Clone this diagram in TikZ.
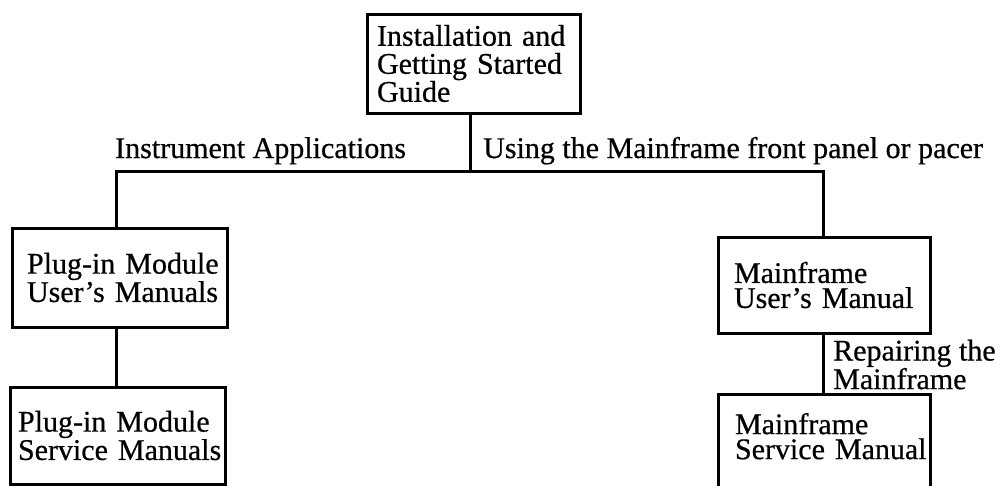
\documentclass[tikz,border=0pt]{standalone}
\usepackage{fontspec}
\setmainfont{Liberation Serif}[FakeBold=0.6]
\newcommand{\apos}{{\char"0027}}
\hyphenpenalty=10000
\exhyphenpenalty=10000
\hfuzz=200pt
\hbadness=10000
\begin{document}
\begin{tikzpicture}[x=1pt,y=-1pt,
  every node/.style={font=\fontsize{30}{25}\selectfont},
  docbox/.style={draw, line width=3pt, inner ysep=0pt, align=left},
  conn/.style={line width=3pt, line join=miter},
  lbl/.style={inner sep=0pt, align=left}]
\useasboundingbox (0,0) rectangle (1000,485);
\clip (0,0) rectangle (1000,485);
% boxes
\node[docbox, font=\fontsize{30}{28}\selectfont, text width=193pt, inner xsep=10pt, minimum height=99pt] (top) at (473.5,63.5)
  {\mbox{Installation and}\\\mbox{Getting Started}\\\mbox{Guide}};
\node[docbox, text width=185pt, inner xsep=15pt, minimum height=99pt] (b1) at (119.5,277.5)
  {\mbox{Plug-in Module}\\\mbox{User\apos s Manuals}};
\node[docbox, text width=199pt, inner xsep=8pt, minimum height=97pt] (b2) at (117.5,435.5)
  {\mbox{Plug-in Module}\\\mbox{Service Manuals}};
\node[docbox, text width=180pt, inner xsep=16pt, minimum height=96pt] (b3) at (824,285)
  {\mbox{Mainframe}\\\mbox{User\apos s Manual}};
\node[docbox, text width=194pt, inner xsep=9pt, inner ysep=18.5pt, text depth=60pt, anchor=north] (b4) at (824,393)
  {\mbox{\hspace*{8pt}Mainframe}\\\mbox{\hspace*{8pt}Service Manual}};
% junctions
\coordinate (J) at (470,171);
\coordinate (L) at (116,171);
\coordinate (R) at (823,171);
% connectors
\draw[conn] (top.south -| J) -- (J);
\draw[conn] (b1.north -| L) -- (L) -- (R) -- (b3.north -| R);
\draw[conn] (b1.south -| L) -- (b2.north -| L);
\draw[conn] (b3.south -| R) -- (b4.north -| R);
% labels
\node[lbl, anchor=base west] (la) at (115,158) {Instrument Applications};
\node[lbl, anchor=base west] (lb) at (483,158) {Using the Mainframe front panel or pacer};
\node[lbl, anchor=north west] (lc) at (833,339.5) {Repairing the\\Mainframe};
\end{tikzpicture}
\end{document}
